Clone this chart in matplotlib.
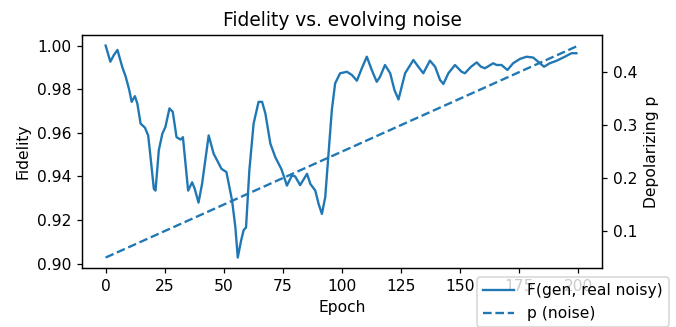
import matplotlib
matplotlib.use("Agg")
import matplotlib.pyplot as plt

# fidelity
epochs = [0, 2, 3.5, 5, 7, 8.5, 10, 11, 12.4, 13.4, 14.8, 16.6, 18, 19, 20.4, 21.1,
          22.5, 24, 25.3, 27, 28.4, 30, 31.7, 32.7, 34.9, 36.6, 37.7, 39.3, 40.8,
          43.6, 45.7, 47.2, 49, 51.1, 52.1, 53.5, 54.9, 55.9, 57.3, 58.4, 59.4,
          60.8, 62.6, 64.7, 66.2, 67.6, 69.7, 71.8, 74.3, 75.3, 76.7, 78.8, 80.2,
          82.3, 85.2, 86.6, 88.7, 90.1, 91.5, 92.9, 94.3, 95.7, 97.1, 99.2, 102.1,
          104.2, 106.3, 108.4, 110.5, 112.6, 114.7, 116.1, 118.2, 120.4, 122.2,
          123.9, 126.7, 130.2, 132.3, 134.4, 137.2, 139.4, 141.5, 142.9, 145,
          147.8, 150.6, 152, 154.6, 157, 158.8, 160.5, 164, 165.4, 167.5, 170,
          172.4, 175.3, 178.1, 180.9, 183, 185.5, 187.9, 190.7, 194.3, 197.1, 199.2]
fidelity = [1.000, 0.9926, 0.9957, 0.998, 0.9903, 0.9857, 0.9796, 0.9742, 0.9768,
            0.9735, 0.9642, 0.9624, 0.9588, 0.9488, 0.9343, 0.9335, 0.952, 0.9596,
            0.9627, 0.9712, 0.9696, 0.958, 0.9569, 0.958, 0.9335, 0.9373, 0.9343,
            0.928, 0.9366, 0.9588, 0.9504, 0.9473, 0.9435, 0.942, 0.9366, 0.9289,
            0.9166, 0.9028, 0.9105, 0.9154, 0.9166, 0.9427, 0.9642, 0.9742, 0.9742,
            0.9688, 0.955, 0.9488, 0.9435, 0.9404, 0.9358, 0.9404, 0.940, 0.936,
            0.9412, 0.9366, 0.9335, 0.9274, 0.9228, 0.9304, 0.9504, 0.9704, 0.9827,
            0.9873, 0.988, 0.9865, 0.9839, 0.9896, 0.9949, 0.9888, 0.9834, 0.9857,
            0.9911, 0.9873, 0.9796, 0.9753, 0.9873, 0.9934, 0.9903, 0.9873, 0.9931,
            0.9903, 0.9842, 0.9824, 0.9873, 0.9911, 0.988, 0.9873, 0.9903, 0.9923,
            0.9903, 0.9896, 0.9919, 0.9911, 0.9911, 0.9888, 0.9919, 0.9939, 0.9949,
            0.9945, 0.9926, 0.9903, 0.9919, 0.993, 0.9949, 0.9965, 0.9965]

# noise schedule (straight ramp)
p_epochs = [0, 200]
p_values = [0.05, 0.45]

DPI = 112
fig = plt.figure(figsize=(676 / DPI, 327 / DPI), dpi=DPI)
ax = fig.add_axes([0.1213, 0.180, 0.7692, 0.713])
l1, = ax.plot(epochs, fidelity, color="C0", label="F(gen, real noisy)")
ax.set_xlabel("Epoch")
ax.set_ylabel("Fidelity")
ax.set_title("Fidelity vs. evolving noise")

ax2 = ax.twinx()
l2, = ax2.plot(p_epochs, p_values, color="C0", linestyle="--", label="p (noise)")
ax2.set_ylabel("Depolarizing p")
ax2.set_yticks([0.1, 0.2, 0.3, 0.4])

fig.legend(handles=[l1, l2], loc="upper left", bbox_to_anchor=(0.7056, 0.153),
           borderaxespad=0)

fig.savefig("out.png", dpi=DPI)
